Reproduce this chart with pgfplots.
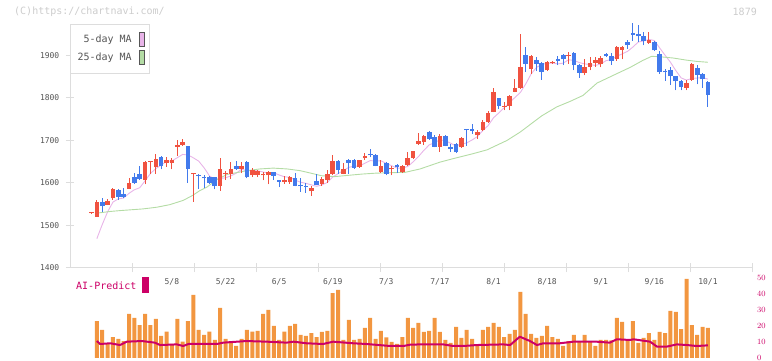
\documentclass[border=0pt]{standalone}
\usepackage{fontspec}
\setmonofont{DejaVu Sans Mono}
\usepackage{pgfplots}
\pgfplotsset{compat=1.18}
\usepackage{pgfplotstable}

\definecolor{candred}{RGB}{240,82,64}
\definecolor{candblue}{RGB}{66,122,236}
\definecolor{mapink}{RGB}{232,180,232}
\definecolor{magreen}{RGB}{180,220,165}
\definecolor{volorange}{RGB}{242,150,64}
\definecolor{aimag}{RGB}{204,0,102}
\definecolor{axisgray}{RGB}{221,221,221}
\definecolor{textgray}{RGB}{85,85,85}
\definecolor{faintgray}{RGB}{204,204,204}

\pgfplotstableread{
i O H L C
0 1529 1530 1528 1529
1 1521 1560 1521 1556
2 1556 1565 1531 1545
3 1549 1562 1548 1558
4 1564 1589 1560 1586
5 1584 1587 1560 1568
6 1573 1589 1564 1566
7 1586 1612 1586 1600
8 1615 1624 1598 1600
9 1622 1640 1608 1610
10 1606 1651 1597 1650
11 1650 1652 1622 1652
12 1637 1669 1622 1657
13 1662 1663 1632 1641
14 1647 1661 1638 1655
15 1647 1658 1632 1655
16 1685 1702 1663 1689
17 1689 1704 1687 1696
18 1686 1688 1600 1634
19 1620 1622 1556 1622
20 1618 1620 1586 1616
21 1615 1619 1588 1611
22 1615 1617 1598 1601
23 1614 1614 1585 1592
24 1594 1659 1582 1633
25 1621 1628 1607 1624
26 1622 1649 1610 1633
27 1640 1651 1631 1633
28 1634 1649 1623 1639
29 1650 1651 1611 1613
30 1618 1636 1614 1630
31 1618 1630 1614 1628
32 1618 1625 1606 1619
33 1618 1628 1597 1627
34 1626 1627 1607 1617
35 1607 1608 1590 1603
36 1603 1616 1598 1607
37 1602 1617 1598 1613
38 1611 1624 1592 1594
39 1595 1611 1579 1592
40 1593 1600 1577 1590
41 1580 1593 1570 1589
42 1605 1622 1595 1596
43 1598 1614 1594 1610
44 1606 1630 1600 1622
45 1620 1666 1618 1652
46 1652 1653 1622 1630
47 1622 1648 1620 1633
48 1655 1656 1622 1647
49 1655 1656 1633 1636
50 1637 1655 1635 1653
51 1658 1671 1655 1663
52 1669 1681 1661 1665
53 1666 1667 1639 1640
54 1626 1655 1623 1640
55 1648 1649 1618 1622
56 1632 1641 1618 1636
57 1643 1644 1623 1637
58 1625 1643 1623 1640
59 1643 1674 1641 1659
60 1659 1676 1657 1676
61 1692 1717 1690 1699
62 1696 1713 1690 1710
63 1720 1723 1702 1704
64 1707 1712 1684 1685
65 1685 1716 1673 1710
66 1710 1712 1686 1688
67 1683 1692 1673 1681
68 1692 1694 1670 1672
69 1684 1708 1683 1706
70 1727 1728 1688 1724
71 1728 1739 1716 1723
72 1712 1724 1704 1721
73 1724 1748 1722 1743
74 1743 1770 1740 1765
75 1768 1824 1766 1815
76 1800 1801 1773 1781
77 1779 1790 1771 1782
78 1781 1808 1771 1804
79 1815 1845 1813 1824
80 1824 1951 1822 1873
81 1902 1920 1861 1881
82 1869 1902 1857 1899
83 1890 1897 1863 1881
84 1883 1884 1843 1862
85 1865 1886 1863 1884
86 1883 1886 1880 1885
87 1892 1899 1877 1888
88 1902 1903 1877 1891
89 1898 1908 1880 1901
90 1906 1908 1865 1877
91 1878 1879 1848 1859
92 1859 1892 1853 1873
93 1874 1896 1865 1883
94 1882 1896 1874 1890
95 1880 1899 1872 1895
96 1904 1906 1896 1898
97 1899 1906 1878 1886
98 1891 1922 1887 1920
99 1914 1922 1891 1920
100 1931 1937 1916 1924
101 1953 1977 1935 1949
102 1951 1971 1931 1945
103 1946 1955 1924 1933
104 1930 1955 1928 1937
105 1931 1935 1910 1912
106 1904 1910 1857 1861
107 1862 1869 1841 1860
108 1865 1873 1830 1851
109 1851 1852 1818 1839
110 1839 1843 1818 1825
111 1824 1843 1818 1835
112 1843 1883 1841 1880
113 1870 1877 1832 1855
114 1857 1859 1824 1844
115 1838 1839 1779 1808
}\ohlc

\pgfplotstableread{
i v
1 23.1
2 17.5
3 9.2
4 13.1
5 11.9
6 10.6
7 27.5
8 25
9 20.6
10 27.5
11 20.6
12 24.4
13 13.75
14 16.5
15 8.75
16 24.4
17 10.2
18 23.1
19 39.4
20 17.5
21 14.4
22 16.5
23 11.25
24 31.25
25 11.9
26 10.6
27 7.5
28 11.9
29 17.5
30 16.5
31 16.9
32 27.5
33 30
34 20
35 11.25
36 16.5
37 20
38 21.25
39 14.4
40 13.75
41 15.6
42 13.1
43 16.25
44 16.9
45 40.6
46 42.5
47 11.25
48 23.75
49 11.25
50 11.9
51 18.75
52 25
53 11.9
54 16.9
55 12.9
56 10
57 8.75
58 13.1
59 25
60 18.75
61 22
62 16.25
63 16.9
64 25
65 16.25
66 11.25
67 9.4
68 19.4
69 12.5
70 17.5
71 11.9
72 8
73 17.5
74 19.4
75 21.9
76 19.4
77 13.1
78 15
79 17.5
80 41.25
81 27.5
82 15
83 12.5
84 13.75
85 20
86 13.1
87 11.9
88 7.5
89 10.6
90 14.4
91 10.6
92 14.4
93 10
94 7.5
95 11.25
96 11.25
97 11
98 25
99 22.5
100 11.25
101 23.1
102 9.4
103 12.5
104 15.6
105 11.25
106 16.25
107 15.6
108 29.4
109 28.75
110 18.1
111 49.4
112 20.6
113 14.4
114 19.4
115 18.75
}\vol

\begin{document}
\begin{tikzpicture}
\useasboundingbox (0pt,0pt) rectangle (772pt,361pt);
\node[anchor=west, inner sep=0pt, font=\ttfamily\fontsize{10}{12}\selectfont, text=faintgray] at (14pt,349pt) {(C)https://chartnavi.com/};
\node[anchor=east, inner sep=0pt, font=\ttfamily\fontsize{10}{12}\selectfont, text=faintgray] at (757pt,349pt) {1879};

\begin{axis}[
  at={(70pt,93pt)}, anchor=south west, scale only axis,
  width=682pt, height=244pt,
  xmin=-4.011, xmax=123.22, ymin=1400, ymax=1974,
  clip=false,
  axis x line*=bottom, axis y line*=left,
  axis line style={-, draw=axisgray, line width=1pt},
  tick align=center, major tick length=9pt,
  tick style={draw=axisgray, line width=1pt},
  ytick={1400,1500,1600,1700,1800,1900},
  /pgf/number format/1000 sep={},
  /pgf/number format/assume math mode=true,
  yticklabel style={font=\ttfamily\fontsize{8}{9}\selectfont, text=textgray, anchor=east, inner sep=0pt, xshift=-6pt},
  xtick={7.6,19.2,30.7,42.3,53.9,65.4,77.0,88.6,100.1,111.7,123.22},
  xticklabels={},
  extra x ticks={15,25,35,45,55,65,75,85,95,105,115},
  extra x tick labels={5/8,5/22,6/5,6/19,7/3,7/17,8/1,8/18,9/1,9/16,10/1},
  extra x tick style={major tick length=0pt, xticklabel style={font=\ttfamily\fontsize{8}{9}\selectfont, text=textgray, anchor=center, yshift=-14pt}},
  legend style={at={(0,1)}, anchor=north west, draw=axisgray, line width=1pt, fill=white,
    font=\ttfamily\fontsize{10}{12}\selectfont, text=textgray,
    inner xsep=5pt, inner ysep=8pt, row sep=3pt, column sep=5pt},
  legend cell align=right, legend plot pos=right,
]
\addplot[mapink, line width=0.9pt, legend image code/.code={\draw[draw=textgray, fill=mapink, line width=0.8pt] (0pt,-7pt) rectangle (5pt,7pt);}] coordinates {
(1,1469)(2,1502)(3,1532)(4,1555)(5,1562.6)(6,1564.6)(7,1575.6)(8,1584)(9,1588.8)(10,1605.2)(11,1622.4)(12,1633.8)(13,1642)(14,1651)(15,1652)(16,1659.4)(17,1667.2)(18,1665.8)(19,1659.2)(20,1651.4)(21,1635.8)(22,1616.8)(23,1608.4)(24,1610.6)(25,1612.2)(26,1616.6)(27,1623)(28,1632.4)(29,1628.4)(30,1629.6)(31,1628.6)(32,1625.8)(33,1623.4)(34,1624.2)(35,1618.8)(36,1614.6)(37,1613.4)(38,1606.8)(39,1601.8)(40,1599.2)(41,1595.6)(42,1592.2)(43,1595.4)(44,1601.4)(45,1613.8)(46,1622)(47,1629.4)(48,1636.8)(49,1639.6)(50,1639.8)(51,1646.4)(52,1652.8)(53,1651.4)(54,1652.2)(55,1646)(56,1640.6)(57,1635)(58,1635)(59,1638.8)(60,1649.6)(61,1662.2)(62,1676.8)(63,1689.6)(64,1694.8)(65,1701.6)(66,1699.4)(67,1693.6)(68,1687.2)(69,1691.4)(70,1694.2)(71,1701.2)(72,1709.2)(73,1723.4)(74,1735.2)(75,1753.4)(76,1765)(77,1777.2)(78,1789.4)(79,1801.2)(80,1812.8)(81,1832.8)(82,1856.2)(83,1871.6)(84,1879.2)(85,1881.4)(86,1882.2)(87,1880)(88,1882)(89,1889.8)(90,1888.4)(91,1883.2)(92,1880.2)(93,1878.6)(94,1876.4)(95,1880)(96,1887.8)(97,1890.4)(98,1897.8)(99,1903.8)(100,1909.6)(101,1919.8)(102,1931.6)(103,1934.2)(104,1937.6)(105,1935.2)(106,1917.6)(107,1900.6)(108,1884.2)(109,1864.6)(110,1847.2)(111,1842)(112,1846)(113,1846.8)(114,1847.8)(115,1844.4)
};
\addlegendentry{5-day MA}
\addplot[magreen, line width=0.9pt, legend image code/.code={\draw[draw=textgray, fill=magreen, line width=0.8pt] (0pt,-7pt) rectangle (5pt,7pt);}] coordinates {
(1,1529)(3.5,1533)(5.3,1535)(9.6,1539)(12.2,1543)(14.6,1549)(17.1,1559)(18.9,1571)(20.2,1582)(21.5,1590)(23.4,1608)(25.3,1620)(29,1629)(31.4,1633)(33.9,1635)(36.5,1633)(38.9,1629)(41.3,1622)(42.9,1617)(45.4,1615)(47.9,1618)(50.5,1621)(52.9,1623)(55.3,1624)(58.5,1625)(61.3,1633)(65,1649)(67.4,1657)(71.2,1669)(73.8,1678)(77.5,1700)(80,1720)(84,1758)(86.8,1779)(89.3,1792)(91.7,1806)(94.3,1835)(97.3,1853)(100.5,1872)(102.8,1888)(104.5,1898)(106,1897)(108.5,1894)(111,1889)(112.9,1886)(115,1884)
};
\addlegendentry{25-day MA}
% wicks
\addplot[draw=none, mark=none, forget plot, error bars/.cd, y dir=plus, y explicit, error mark=none,
  error bar style={draw=candred, line width=1pt}]
  table[x=i, y expr={\thisrow{C}<\thisrow{O} ? nan : \thisrow{L}}, y error expr={\thisrow{H}-\thisrow{L}}] {\ohlc};
\addplot[draw=none, mark=none, forget plot, error bars/.cd, y dir=plus, y explicit, error mark=none,
  error bar style={draw=candblue, line width=1pt}]
  table[x=i, y expr={\thisrow{C}<\thisrow{O} ? \thisrow{L} : nan}, y error expr={\thisrow{H}-\thisrow{L}}] {\ohlc};
% bodies
\addplot[draw=none, mark=none, forget plot, error bars/.cd, y dir=plus, y explicit, error mark=none,
  error bar style={draw=candred, line width=4.6pt}]
  table[x=i, y expr={\thisrow{C}<\thisrow{O} ? nan : \thisrow{O}}, y error expr={max(\thisrow{C}-\thisrow{O},2.5)}] {\ohlc};
\addplot[draw=none, mark=none, forget plot, error bars/.cd, y dir=plus, y explicit, error mark=none,
  error bar style={draw=candblue, line width=4.6pt}]
  table[x=i, y expr={\thisrow{C}<\thisrow{O} ? \thisrow{C} : nan}, y error expr={max(\thisrow{O}-\thisrow{C},2.5)}] {\ohlc};
\end{axis}

\begin{axis}[
  at={(70pt,3pt)}, anchor=south west, scale only axis,
  width=682pt, height=80pt,
  xmin=-4.011, xmax=123.22, ymin=0, ymax=50,
  clip=false,
  hide x axis, axis y line*=right,
  y axis line style={draw=none},
  major tick length=0pt,
  ytick={0,10,20,30,40,50},
  yticklabel style={font=\ttfamily\fontsize{8}{9}\selectfont, text=aimag, anchor=west, inner sep=0pt, xshift=5pt},
]
\addplot[ybar, bar width=4pt, fill=volorange, draw=none] table[x=i, y=v] {\vol};
\addplot[aimag, line width=2pt, line join=round] coordinates {
(1,10.6)(1.6,8.75)(3.5,9.2)(5.3,8.1)(6.6,10.2)(9.4,10.6)(11.8,9.6)(12.8,8.1)(15.9,8.5)(17.1,7.5)(18.1,8.75)(23.4,8.75)(24.6,9.6)(28.9,10.6)(32.7,10.2)(36.4,9.6)(37.7,10.2)(40.1,9.2)(43.2,8.75)(45.1,10.2)(48.8,9.2)(51.3,8.75)(55.7,7.5)(58.2,7.5)(59.4,8.3)(61.3,8.5)(63.2,8.5)(65.6,8.5)(67.5,7.5)(69.4,7.5)(71.9,8.1)(76.8,8.5)(78.1,8.1)(79.9,13.3)(81.8,10.6)(83.1,8.1)(84.3,9.2)(87.4,9.2)(89.9,10.2)(94.2,10.2)(96.7,9.6)(98,11.7)(100.5,11.25)(101.1,11.7)(104.2,10.2)(105.5,7.1)(107.3,7.1)(109.2,8.5)(111.1,8.1)(112.9,7.5)(115,7.9)
};
\end{axis}

\node[anchor=west, inner sep=0pt, font=\ttfamily\fontsize{10}{12}\selectfont, text=aimag] at (76pt,75pt) {AI-Predict};
\fill[aimag] (142pt,68pt) rectangle (149pt,84pt);
\end{tikzpicture}
\end{document}
